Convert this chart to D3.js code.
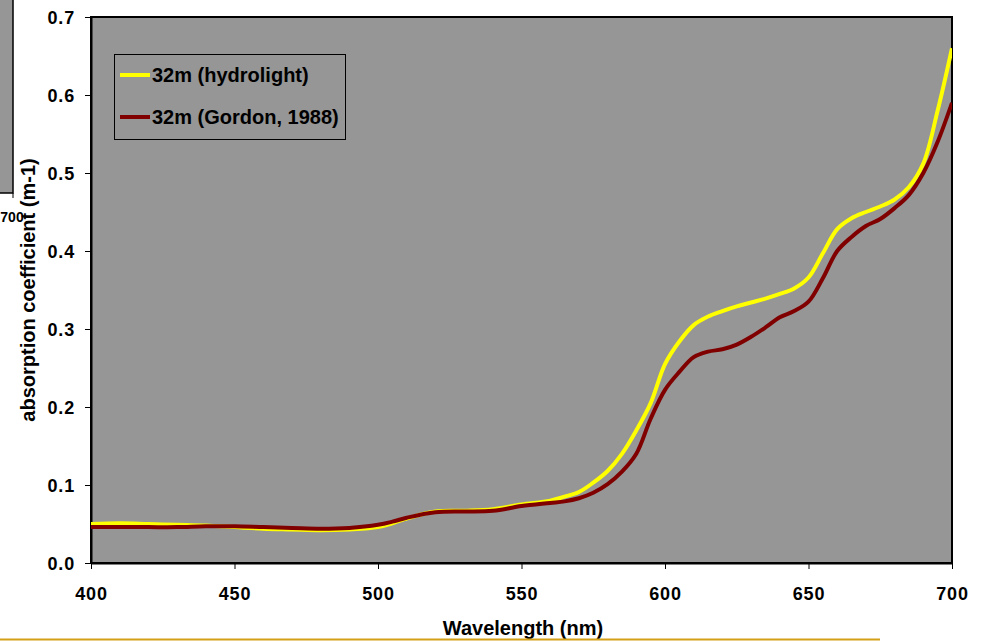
<!DOCTYPE html>
<html><head><meta charset="utf-8">
<script src="https://cdn.jsdelivr.net/npm/d3@7"></script>
<style>body{margin:0;background:#fff;}svg{display:block;font-family:"Liberation Sans",Arial,sans-serif;}</style>
</head><body>
<svg id="c" width="987" height="641"></svg>
<script>
const wavelengths = [400,410,420,430,440,450,460,470,480,490,500,505,510,520,530,540,550,560,565,570,575,580,585,590,595,600,605,610,615,620,625,630,635,640,645,650,655,660,665,670,675,680,685,690,695,700];
const hydrolight = [0.050,0.051,0.050,0.049,0.048,0.046,0.044,0.043,0.042,0.043,0.046,0.051,0.057,0.066,0.067,0.069,0.075,0.080,0.085,0.091,0.103,0.118,0.140,0.170,0.205,0.255,0.284,0.305,0.316,0.323,0.329,0.334,0.339,0.345,0.352,0.366,0.397,0.428,0.442,0.450,0.457,0.466,0.482,0.512,0.580,0.660];
const gordon = [0.046,0.046,0.046,0.046,0.047,0.047,0.046,0.045,0.044,0.045,0.049,0.053,0.058,0.065,0.066,0.067,0.073,0.077,0.079,0.083,0.090,0.101,0.117,0.140,0.185,0.222,0.245,0.264,0.271,0.274,0.280,0.290,0.302,0.315,0.323,0.335,0.365,0.400,0.418,0.432,0.441,0.455,0.472,0.500,0.540,0.590];
const seriesNames = ["32m (hydrolight)","32m (Gordon, 1988)"];
const seriesColors = ["#FFFF00","#800000"];
const xTicks = [400,450,500,550,600,650,700];
const yTicks = [0,0.1,0.2,0.3,0.4,0.5,0.6,0.7];

const svg = d3.select("#c");
const L=91,R=952,T=17,B=563;
const x = d3.scaleLinear().domain([400,700]).range([L,R]);
const y = d3.scaleLinear().domain([0,0.7]).range([B,T]);

// partial neighbouring chart at left
svg.append("rect").attr("x",-10).attr("y",-10).attr("width",23).attr("height",203)
  .attr("fill","#969696").attr("stroke","#000").attr("stroke-width",1.5);
svg.append("line").attr("x1",13).attr("x2",13).attr("y1",193).attr("y2",198).attr("stroke","#000");
svg.append("text").attr("x",12).attr("y",222).attr("text-anchor","middle")
  .attr("font-size",14).attr("font-weight","bold").text("700");

// plot area
svg.append("rect").attr("x",L).attr("y",T).attr("width",R-L).attr("height",B-T)
  .attr("fill","#969696").attr("stroke","#000").attr("stroke-width",2);

const xAxis = svg.append("g").attr("transform",`translate(0,${B})`)
  .call(d3.axisBottom(x).tickValues(xTicks).tickSize(6).tickSizeOuter(0).tickPadding(18).tickFormat(d3.format("d")));
const yAxis = svg.append("g").attr("transform",`translate(${L},0)`)
  .call(d3.axisLeft(y).tickValues(yTicks).tickSize(6).tickSizeOuter(0).tickPadding(10).tickFormat(d3.format(".1f")));
[xAxis,yAxis].forEach(g=>{
  g.select(".domain").attr("stroke","#000").attr("stroke-width",2);
  g.selectAll(".tick line").attr("stroke","#000");
  g.selectAll(".tick text").attr("font-size",18).attr("font-weight","bold").attr("fill","#000")
    .attr("letter-spacing","0.8px")
    .attr("font-family","Liberation Sans, Arial, sans-serif");
});
xAxis.selectAll(".tick text").attr("dy","0.71em").attr("y",24);
yAxis.selectAll(".tick text").attr("dy","0.35em");

const line = d3.line().curve(d3.curveCatmullRom.alpha(0.5)).x((d,i)=>x(wavelengths[i])).y(d=>y(d));
svg.append("clipPath").attr("id","pc").append("rect").attr("x",L).attr("y",T-10).attr("width",R-L).attr("height",B-T+10);
[hydrolight,gordon].forEach((s,k)=>{
  svg.append("path").datum(s).attr("d",line).attr("fill","none")
    .attr("stroke",seriesColors[k]).attr("stroke-width",4).attr("stroke-linejoin","round")
    .attr("clip-path","url(#pc)");
});

// legend
const lg = svg.append("g");
lg.append("rect").attr("x",114.5).attr("y",54.5).attr("width",231).attr("height",85)
  .attr("fill","#969696").attr("stroke","#000").attr("stroke-width",1);
seriesNames.forEach((n,k)=>{
  const yy = 75 + k*42;
  lg.append("line").attr("x1",120).attr("x2",150).attr("y1",yy).attr("y2",yy)
    .attr("stroke",seriesColors[k]).attr("stroke-width",4);
  lg.append("text").attr("x",152).attr("y",yy).attr("dy","0.36em")
    .attr("font-size",20).attr("font-weight","bold").attr("fill","#000").text(n);
});

// axis titles
svg.append("text").attr("x",523).attr("y",635).attr("text-anchor","middle")
  .attr("font-size",20).attr("font-weight","bold").text("Wavelength (nm)");
svg.append("text").attr("transform","translate(35,290) rotate(-90)").attr("text-anchor","middle")
  .attr("font-size",20).attr("font-weight","bold").text("absorption coefficient (m-1)");

// bottom decorative line
svg.append("line").attr("x1",0).attr("x2",880).attr("y1",639.5).attr("y2",639.5)
  .attr("stroke","#D4A017").attr("stroke-width",2);
</script>
</body></html>
